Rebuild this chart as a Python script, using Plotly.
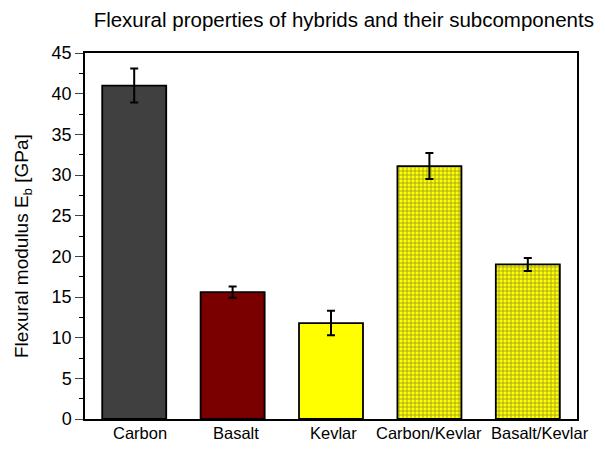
import plotly.graph_objects as go

categories = ["Carbon", "Basalt", "Kevlar", "Carbon/Kevlar", "Basalt/Kevlar"]
modulus = [41.0, 15.6, 11.8, 31.1, 19.0]
modulus_err = [2.1, 0.7, 1.5, 1.6, 0.8]

bar_colors = ["#404040", "#7a0000", "#ffff00", "#ffff00", "#ffff00"]
hatch_shapes = ["", "", "", "+", "+"]
hatch_colors = ["black", "black", "black", "#000000", "#c00000"]
label_shift = [6, 3, 2, 0, 12]  # the original labels sit a little off-centre

fig = go.Figure()

# soft shadow behind the bars
fig.add_trace(go.Bar(
    x=categories, y=modulus, width=0.65, offset=-0.315,
    marker=dict(color="rgba(150,150,150,0.6)", line=dict(width=0)),
    hoverinfo="skip", showlegend=False,
))

fig.add_trace(go.Bar(
    x=categories, y=modulus, width=0.65, offset=-0.325,
    marker=dict(
        color=bar_colors,
        line=dict(color="black", width=1.8),
        pattern=dict(shape=hatch_shapes, fgcolor=hatch_colors,
                     size=4, solidity=0.4, fillmode="overlay"),
    ),
    error_y=dict(type="data", array=modulus_err, color="black",
                 thickness=2, width=4),
    showlegend=False,
))

for cat, dx in zip(categories, label_shift):
    fig.add_annotation(x=cat, y=0, yref="paper", text=cat, showarrow=False,
                       xshift=dx, yshift=-25, font=dict(size=16.5))

# y axis title as a rotated annotation so it can be placed exactly
fig.add_annotation(x=0, xref="paper", y=0.5, yref="paper",
                   xanchor="center", yanchor="middle", xshift=-62, yshift=-10,
                   text="Flexural modulus E<sub>b</sub> [GPa]", textangle=-90,
                   showarrow=False, font=dict(size=19))

fig.update_layout(
    width=605, height=454,
    barmode="overlay",
    paper_bgcolor="white", plot_bgcolor="white",
    margin=dict(l=77, r=36, t=45, b=43),
    font=dict(family="Liberation Sans, Arial, sans-serif", color="black"),
    title=dict(text="Flexural properties of hybrids and their subcomponents",
               x=0.555, xanchor="center", y=0.975, yanchor="middle",
               font=dict(size=20.5)),
    xaxis=dict(showline=True, linecolor="black", linewidth=1.5, mirror=True,
               ticks="", showticklabels=False, range=[-0.5, 4.5],
               automargin=False),
    yaxis=dict(range=[0, 45], dtick=5, showline=True, linecolor="black",
               linewidth=1.5, mirror=True, ticks="outside", ticklen=8,
               tickwidth=1, showgrid=False, zeroline=False,
               tickfont=dict(size=18), automargin=False,
               minor=dict(dtick=2.5, ticks="outside", ticklen=4,
                          tickcolor="black")),
)

fig.write_html("out.html")
